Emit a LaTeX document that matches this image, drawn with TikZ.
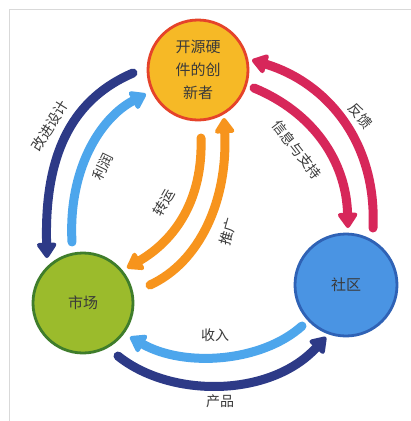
\documentclass[tikz,border=0pt]{standalone}
\usepackage{fontspec}
\setmainfont{Noto Sans CJK SC}
\usetikzlibrary{arrows.meta}
\definecolor{navy}{HTML}{2D3A87}
\definecolor{lblue}{HTML}{4DA6EC}
\definecolor{crim}{HTML}{D7275A}
\definecolor{orng}{HTML}{F7941D}
\definecolor{txt}{HTML}{3A3A3A}
\definecolor{topfill}{HTML}{F6B926}
\definecolor{topedge}{HTML}{E5432A}
\definecolor{mktfill}{HTML}{9BBB2C}
\definecolor{mktedge}{HTML}{3F7D2B}
\definecolor{comfill}{HTML}{4A94E3}
\definecolor{comedge}{HTML}{2F62B5}
\tikzset{
  flow/.style={line width=9pt, line cap=round, -{Triangle[width=22pt,length=17pt,round=false]}},
  ball/.style={circle, line width=2.8pt, minimum size=100pt, inner sep=0pt, align=center, text=txt, font=\fontsize{15pt}{23pt}\selectfont},
  lbl/.style={text=txt, font=\fontsize{14pt}{16pt}\selectfont, inner sep=0pt}
}
\begin{document}
\begin{tikzpicture}[x=1pt,y=-1pt]
\useasboundingbox (0,0) rectangle (411,421);
\fill[white] (0,0) rectangle (411,421);
\draw[black!15, line width=1pt] (9.5,421) -- (9.5,9.5) -- (411,9.5);
% endpoints
\coordinate (a1) at (133,73);  \coordinate (a2) at (47,258);
\coordinate (b1) at (72,242);  \coordinate (b2) at (146,94);
\coordinate (c1) at (373,228); \coordinate (c2) at (252,60);
\coordinate (d1) at (254,88);  \coordinate (d2) at (348,228);
\coordinate (e1) at (201,138); \coordinate (e2) at (127,268);
\coordinate (f1) at (150,285); \coordinate (f2) at (224,118);
\coordinate (g1) at (302,326); \coordinate (g2) at (130,337);
\coordinate (h1) at (118,356); \coordinate (h2) at (326,337);
% arrows
\draw[flow, navy] (a1) .. controls (75,98) and (44,150) .. (a2);
\draw[flow, lblue] (b1) .. controls (68,170) and (100,118) .. (b2);
\draw[flow, crim] (c1) .. controls (377,140) and (325,82) .. (c2);
\draw[flow, crim] (d1) .. controls (312,112) and (346,160) .. (d2);
\draw[flow, orng] (e1) .. controls (203,200) and (175,240) .. (e2);
\draw[flow, orng] (f1) .. controls (200,262) and (228,200) .. (f2);
\draw[flow, lblue] (g1) .. controls (262,362) and (185,368) .. (g2);
\draw[flow, navy] (h1) .. controls (170,398) and (270,398) .. (h2);
% circles
\node[ball, fill=topfill, draw=topedge] (inn) at (198,70) {开源硬\\件的创\\新者};
\node[ball, fill=mktfill, draw=mktedge] (mkt) at (83,303) {市场};
\node[ball, fill=comfill, draw=comedge, minimum size=102pt] (com) at (346,285) {社区};
% labels
\node[lbl, rotate=58] (l1) at (50,126) {改进设计};
\node[lbl, rotate=64] (l2) at (103,167) {利润};
\node[lbl, rotate=60] (l3) at (164,203) {转运};
\node[lbl, rotate=74] (l4) at (228,232) {推广};
\node[lbl, rotate=-52] (l5) at (297,150) {信息与支持};
\node[lbl, rotate=-50] (l6) at (361,116) {反馈};
\node[lbl] (l7) at (215,335) {收入};
\node[lbl] (l8) at (220,401) {产品};
\end{tikzpicture}
\end{document}
